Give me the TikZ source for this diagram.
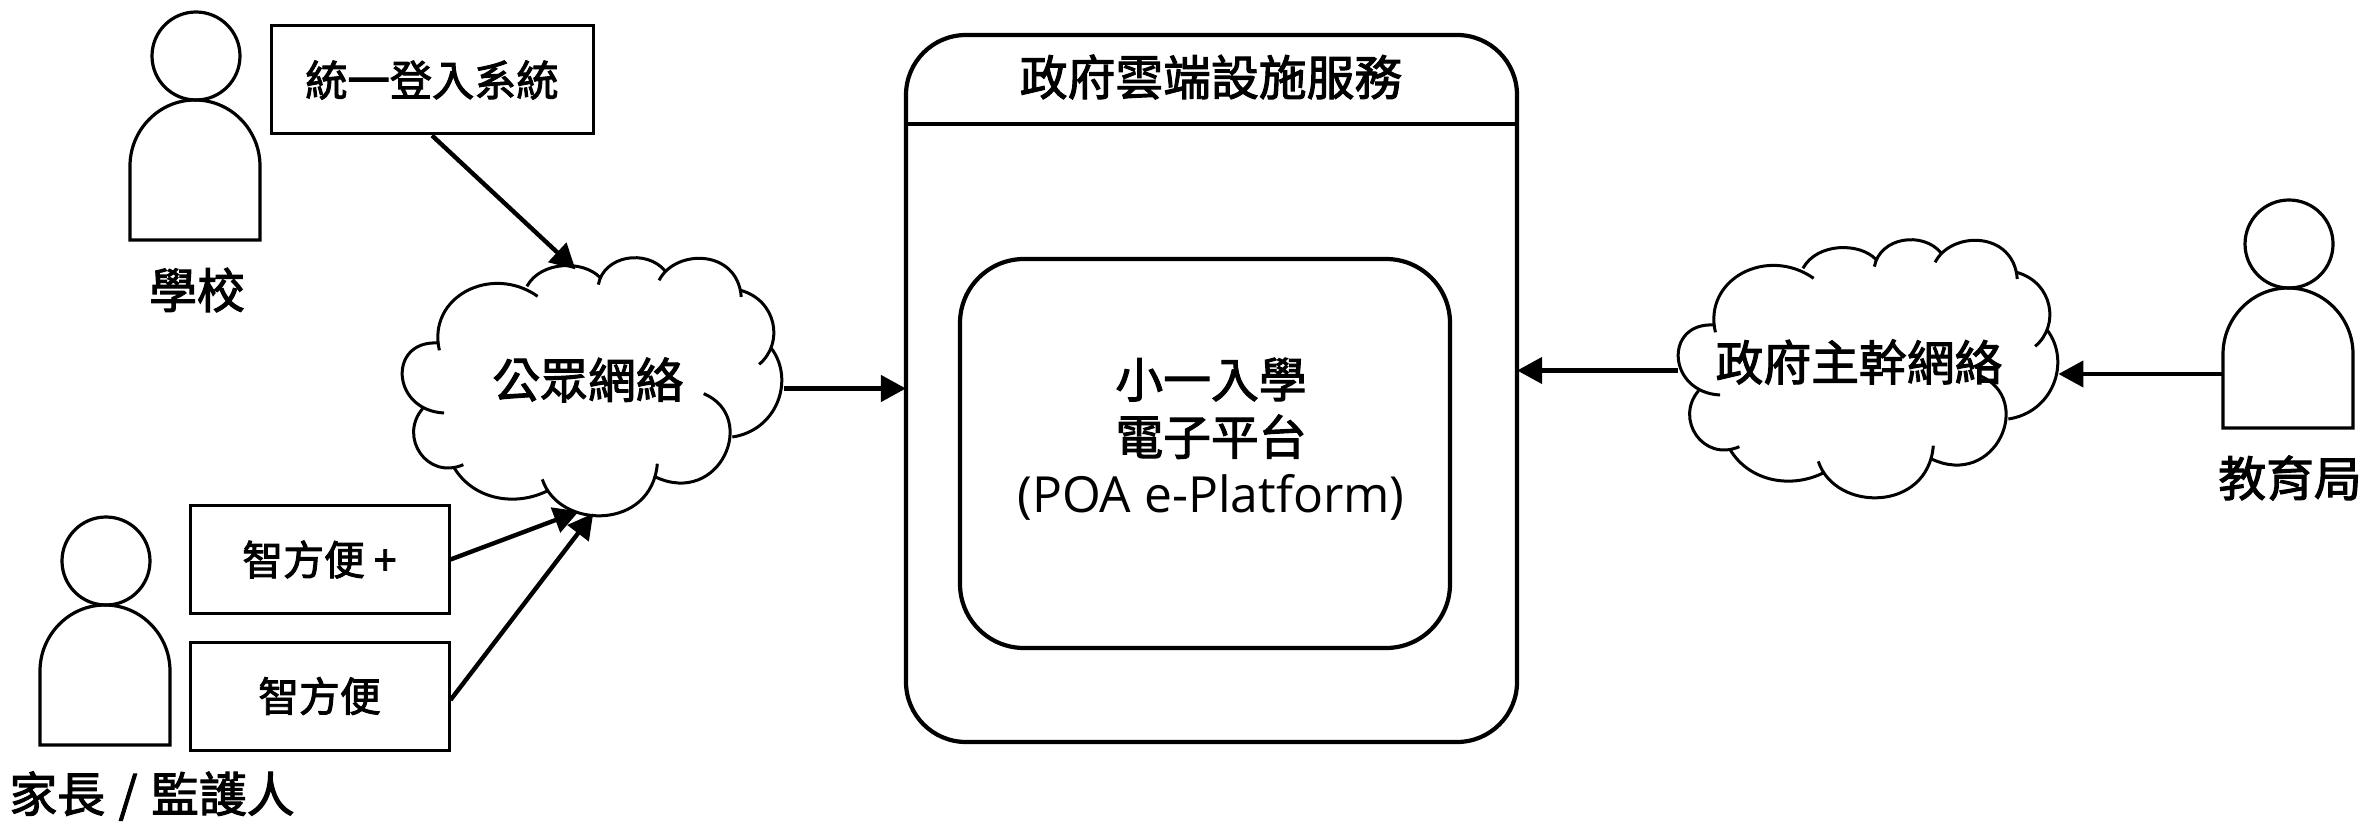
\documentclass[tikz,border=0pt]{standalone}
\usepackage{fontspec}
\setmainfont{Open Sans}
\newfontfamily\cjk[FakeBold=2.2]{Noto Sans CJK TC}
\usetikzlibrary{arrows.meta,positioning}

\tikzset{
    box/.style={draw, line width=1.5pt, minimum width=129.5pt, minimum height=54pt, inner sep=0pt,
        font=\cjk\fontsize{20.4}{24}\selectfont},
    title/.style={inner sep=0pt, font=\cjk\fontsize{23.9}{28.7}\selectfont, align=center},
    link/.style={line width=2.2pt, shorten >=-1pt, -{Triangle[length=12.5pt,width=13pt]}},
    person/.pic={
        \node[draw, circle, line width=1.6pt, minimum size=44pt, inner sep=0pt] (-head) at (0,0) {};
        \node[minimum width=65pt, minimum height=70pt, inner sep=0pt] (-body) at (-1,114) {};
        \draw[line width=1.6pt] (-66,184) -- (-66,110)
            .. controls (-66,74) and (-37,44) .. (-1,44)
            .. controls (35,44) and (64,74) .. (64,110) -- (64,184) -- cycle;
    },
    netcloud/.pic={
        \node[minimum width=191pt, minimum height=130pt, inner sep=0pt] (-area) at (0,0) {};
        \begin{scope}[x=0.1786pt, y=-0.1667pt, shift={(-595,-497)}, line width=1.5pt]
            \draw (165,390) .. controls (130,230) and (310,130) .. (440,228);
            \draw (410,198) .. controls (450,120) and (570,120) .. (615,172);
            \draw (610,193) .. controls (625,105) and (745,85) .. (797,152);
            \draw (780,180) .. controls (825,85) and (1000,85) .. (1010,230);
            \draw (1008,210) .. controls (1110,240) and (1130,370) .. (1060,432);
            \draw (1095,385) .. controls (1160,480) and (1110,630) .. (985,650);
            \draw (905,520) .. controls (1060,590) and (950,860) .. (770,770);
            \draw (775,730) .. controls (760,930) and (500,930) .. (453,777);
            \draw (470,810) .. controls (380,860) and (260,840) .. (205,740);
            \draw (232,733) .. controls (130,780) and (50,650) .. (118,565);
            \draw (178,578) .. controls (30,570) and (20,360) .. (160,368);
        \end{scope}
    },
}

\begin{document}
\begin{tikzpicture}[x=0.5pt, y=-0.5pt]
    \useasboundingbox (0,0) rectangle (2364,822);

    % platform
    \node[draw, line width=2.1pt, rounded corners=30pt, minimum width=305.5pt, minimum height=353.5pt] (platform) at (1211.5,388.5) {};
    \node[draw, line width=2.1pt, rounded corners=32pt, minimum width=245pt, minimum height=194.5pt] (core) at (1205,453.5) {};
    \node[title] (platformTitle) at (1211,77) {政府雲端設施服務};
    \node[title] (coreLabel) at (1211,439) {小一入學\\電子平台\\{\fontspec{Open Sans}\fontsize{24.9}{28.7}\selectfont (POA e-Platform)}};
    \coordinate (headerLine) at (0,124);
    \draw[line width=2.1pt] (platform.west |- headerLine) -- (platform.east |- headerLine);

    % clouds
    \pic (public) at (593,386) {netcloud};
    \pic (gov) at (1869,368) {netcloud};
    \node[title] (publicLabel) at (588,380) {公眾網絡};
    \node[title] (govLabel) at (1859,362) {政府主幹網絡};
    \coordinate (publicTop) at (574,268);
    \coordinate (publicLow) at (577,512);
    \coordinate (publicTip) at (592,515);

    % people
    \pic (school) at (196,56) {person};
    \pic (parent) at (106,561) {person};
    \pic (bureau) at (2289,244) {person};
    \node[title] (schoolLabel) at (197,290) {學校};
    \node[title] (parentLabel) at (152,796) {家長\hspace{1.5pt} / \hspace{1.5pt}監護人};
    \node[title] (bureauLabel) at (2290,478) {教育局};

    % apps
    \node[box, minimum width=161pt, font=\cjk\fontsize{21.1}{24}\selectfont] (login) at (432,80) {統一登入系統};
    \node[box] (appPlus) at (319.5,559.5) {智方便 +\hspace{6pt}};
    \node[box] (app) at (319.5,696) {智方便};

    % links
    \draw[link] (login.south) -- (publicTop);
    \draw[link] (appPlus.east) -- (publicLow);
    \draw[link] ([yshift=-2pt]app.east) -- (publicTip);
    \draw[link] (public-area.east |- platform.west) -- (platform.west);
    \draw[link] ([yshift=-1.25pt]gov-area.west) -- ([yshift=-1.25pt]gov-area.west -| platform.east);
    \draw[link] ([yshift=-8pt]bureau-body.west) -- ([yshift=-8pt]bureau-body.west -| gov-area.east);
\end{tikzpicture}
\end{document}
